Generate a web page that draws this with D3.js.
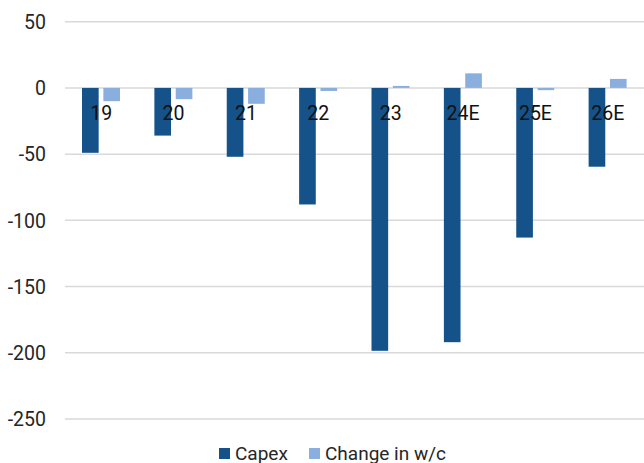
<!DOCTYPE html>
<html lang="en">
<head>
    <meta charset="utf-8" />
    <title>Capex and change in w/c</title>
    <script src="https://cdnjs.cloudflare.com/ajax/libs/d3/7.8.5/d3.min.js"></script>
    <style>
        body { margin: 0; background: #fff; }
        text { font-family: Roboto, "Liberation Sans", sans-serif; }
    </style>
</head>
<body>
    <div id="vis"></div>
    <script type="text/javascript">
        var categories = ["19", "20", "21", "22", "23", "24E", "25E", "26E"];
        var capex = [-49, -36, -52, -88, -198.5, -192, -113, -59.5];
        var changeWc = [-10, -8.5, -12, -2.3, 1.5, 11, -1.7, 6.8];
        var yTicks = [50, 0, -50, -100, -150, -200, -250];
        var seriesNames = ["Capex", "Change in w/c"];
        var colors = ["#15528a", "#8aafdf"];

        var width = 644, height = 463;
        var plotLeft = 65, plotRight = 644, plotTop = 21.7, plotBottom = 419;

        var svg = d3.select("#vis").append("svg")
            .attr("width", width)
            .attr("height", height);

        var y = d3.scaleLinear().domain([-250, 50]).range([plotBottom, plotTop]);
        var x = d3.scaleBand().domain(categories).range([plotLeft, plotRight]);
        var inner = d3.scaleBand().domain([0, 1]).range([17, 55]).paddingInner(0.22);

        // gridlines
        svg.append("g").selectAll("line")
            .data(yTicks)
            .enter().append("line")
            .attr("x1", plotLeft).attr("x2", plotRight)
            .attr("y1", function (d) { return y(d); })
            .attr("y2", function (d) { return y(d); })
            .attr("stroke", "#d9d9d9")
            .attr("stroke-width", 1.5);

        // y labels (plain hyphen, like the original)
        var yAxis = d3.axisLeft(y).tickValues(yTicks).tickSize(0).tickPadding(0)
            .tickFormat(function (d) { return String(d); });
        var yg = svg.append("g").attr("transform", "translate(46,0)").call(yAxis);
        yg.select(".domain").remove();
        yg.selectAll("text")
            .attr("font-family", "Roboto, sans-serif")
            .attr("font-size", 19.5)
            .attr("fill", "#262626")
            .attr("dy", "0.35em");

        // bars
        [capex, changeWc].forEach(function (vals, s) {
            svg.append("g").selectAll("rect")
                .data(vals)
                .enter().append("rect")
                .attr("x", function (d, i) { return x(categories[i]) + inner(s); })
                .attr("width", inner.bandwidth())
                .attr("y", function (d) { return y(Math.max(0, d)); })
                .attr("height", function (d) { return Math.abs(y(d) - y(0)); })
                .attr("fill", colors[s]);
        });

        // category labels sitting just below the zero line
        svg.append("g").selectAll("text")
            .data(categories)
            .enter().append("text")
            .attr("x", function (d) { return x(d) + x.bandwidth() / 2; })
            .attr("y", 119.5)
            .attr("text-anchor", "middle")
            .attr("font-size", 19.5)
            .attr("fill", "#111")
            .text(function (d) { return d; });

        // legend
        var legendX = [219, 309];
        var lg = svg.append("g");
        seriesNames.forEach(function (name, i) {
            lg.append("rect")
                .attr("x", legendX[i]).attr("y", 448)
                .attr("width", 11).attr("height", 11)
                .attr("fill", colors[i]);
            lg.append("text")
                .attr("x", legendX[i] + 16).attr("y", 460)
                .attr("font-size", 19)
                .attr("fill", "#262626")
                .text(name);
        });
    </script>
</body>
</html>
